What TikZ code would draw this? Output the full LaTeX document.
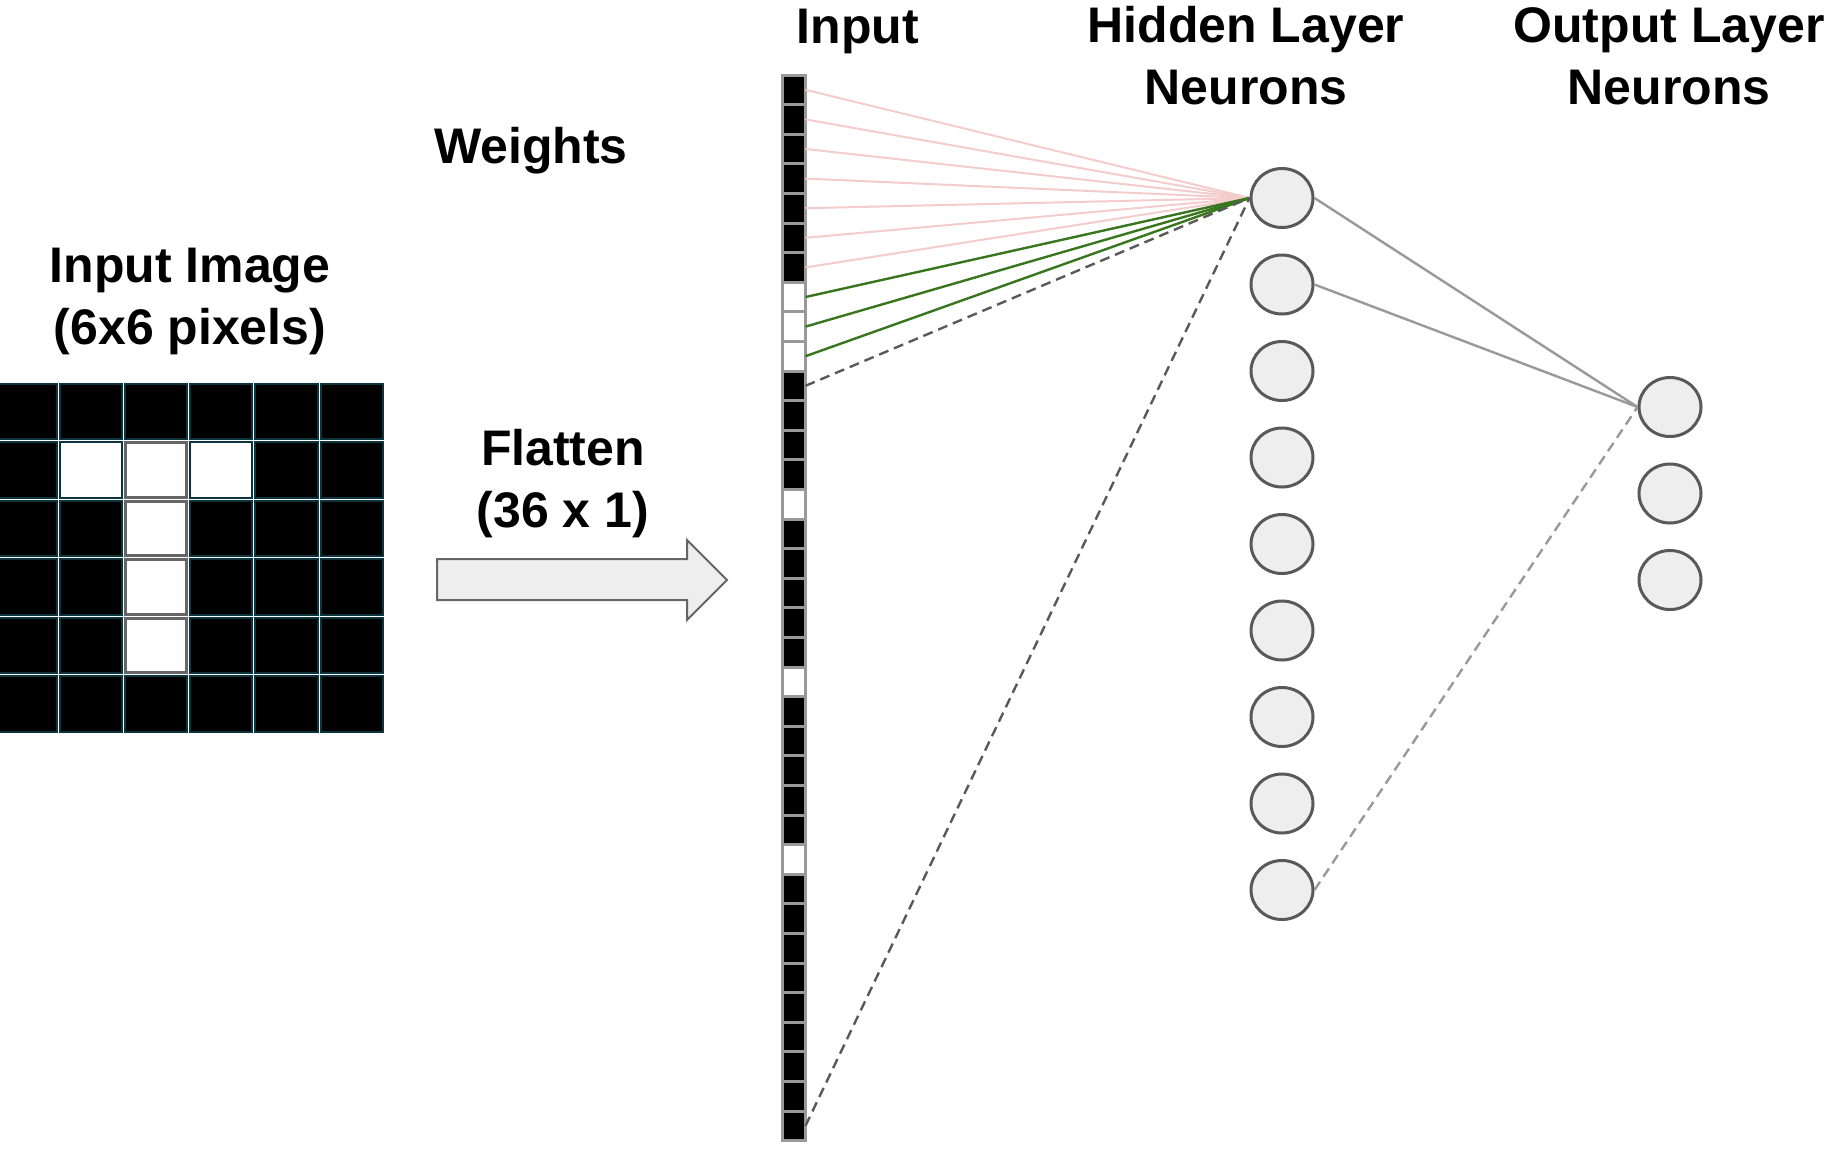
\documentclass[tikz,border=0pt]{standalone}
\usepackage{fontspec}
\setmainfont{Liberation Sans}
\usetikzlibrary{shapes.geometric}
\definecolor{pinkw}{HTML}{F4CCCC}
\definecolor{greenw}{HTML}{38761D}
\definecolor{neurfill}{HTML}{EEEEEE}
\definecolor{neurline}{HTML}{595959}
\definecolor{cellline}{HTML}{999999}
\definecolor{pixline}{HTML}{0C343D}
\definecolor{pixgray}{HTML}{666666}
\begin{document}
\begin{tikzpicture}[x=0.5pt,y=-0.5pt,
    lbl/.style={font=\fontsize{25}{30.75}\selectfont\bfseries, align=center, inner sep=0pt, anchor=base},
    pix0/.style={draw=pixline, fill=black, line width=1pt, minimum width=31.1pt, minimum height=27.75pt, inner sep=0pt, outer sep=0pt},
    pix1/.style={pix0, fill=white},
    pix2/.style={pix0, fill=white, draw=pixgray, line width=1.5pt, minimum width=30.6pt, minimum height=27.25pt},
    vec0/.style={draw=cellline, fill=black, line width=1.5pt, minimum width=11.5pt, minimum height=14.8pt, inner sep=0pt, outer sep=0pt},
    vec1/.style={vec0, fill=white},
    neuron/.style={ellipse, draw=neurline, fill=neurfill, line width=1.5pt, minimum width=31pt, minimum height=29.5pt, inner sep=0pt},
    link/.style={draw=cellline, line width=1.2pt},
    dashlink/.style={dash pattern=on 5pt off 3pt, line width=1.2pt}]
    \useasboundingbox (0,0) rectangle (1833,1153);
    \foreach \row [count=\r] in {{0,0,0,0,0,0},{0,1,2,1,0,0},{0,0,2,0,0,0},{0,0,2,0,0,0},{0,0,2,0,0,0},{0,0,0,0,0,0}}
        \foreach \v [count=\c] in \row
            \node[pix\v] (p\r\c) at ({-7+(\c-0.5)*65.2},{382+(\r-0.5)*58.5}) {};
    \foreach \v [count=\i] in {0,0,0,0,0,0,0,1,1,1,0,0,0,0,1,0,0,0,0,0,1,0,0,0,0,0,1,0,0,0,0,0,0,0,0,0}
        \node[vec\v] (x\i) at (794,{75+(\i-0.5)*29.6}) {};
    \foreach \j in {1,...,9}
        \node[neuron] (h\j) at (1282,{198+(\j-1)*86.5}) {};
    \foreach \k in {1,2,3}
        \node[neuron] (o\k) at (1670,{407+(\k-1)*86.5}) {};
    \foreach \i in {1,...,7}
        \draw[pinkw, line width=1pt] (x\i.east) -- (h1.west);
    \foreach \i in {8,9,10}
        \draw[greenw, line width=1.2pt] (x\i.east) -- (h1.west);
    \foreach \i in {11,36}
        \draw[neurline, dashlink] (x\i.east) -- (h1.west);
    \draw[link] (h1.east) -- (o1.west);
    \draw[link] (h2.east) -- (o1.west);
    \draw[cellline, dashlink] (h9.east) -- (o1.west);
    \draw[fill=neurfill, draw=pixgray, line width=1pt] (437,559) -- (687,559) -- (687,540) -- (727,580) -- (687,620) -- (687,600) -- (437,600) -- cycle;
    \node[lbl] (inimg) at (190,344) {Input Image\\(6x6 pixels)};
    \node[lbl] (wts) at (531,163) {Weights};
    \node[lbl] (flat) at (563,527) {Flatten\\(36 x 1)};
    \node[lbl] (inp) at (858,43) {Input};
    \node[lbl] (hid) at (1246,104) {Hidden Layer\\Neurons};
    \node[lbl] (outl) at (1669,104) {Output Layer\\Neurons};
\end{tikzpicture}
\end{document}
